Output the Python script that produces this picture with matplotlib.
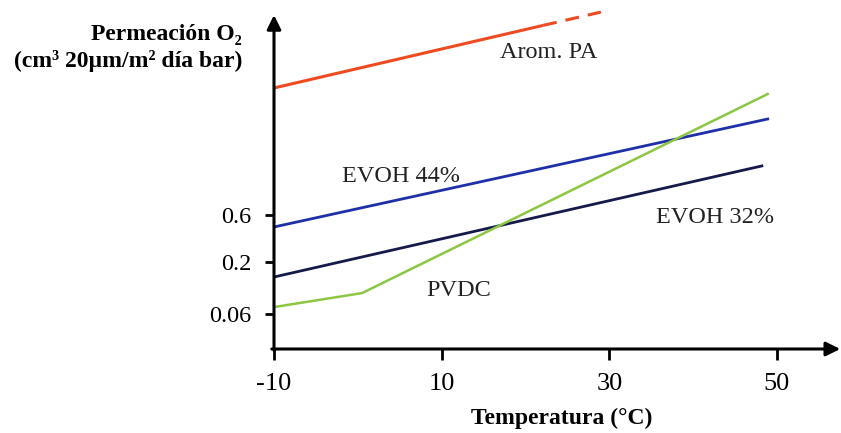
import matplotlib
matplotlib.use("Agg")
import matplotlib.pyplot as plt
from matplotlib.ticker import NullLocator

plt.rcParams['font.family'] = ['Liberation Serif', 'DejaVu Serif']
plt.rcParams['lines.scale_dashes'] = False

# data (temperature in C, permeation on a log axis)
arom_x = [-10, 22.1]
arom_y = [11.1, 47.0]
arom_dash_x = [22.1, 29.0]
arom_dash_y = [47.0, 63.9]

evoh44_x = [-10, 48.9]
evoh44_y = [0.45, 5.43]

evoh32_x = [-10, 48.2]
evoh32_y = [0.142, 1.84]

pvdc_x = [-10, 0.5, 48.9]
pvdc_y = [0.071, 0.098, 9.66]

x_ticks = [-10, 10, 30, 50]
y_ticks = [0.06, 0.2, 0.6]
y_tick_labels = ['0.06', '0.2', '0.6']

W, H = 841, 433
dpi = 100
fig = plt.figure(figsize=(W / dpi, H / dpi), dpi=dpi)


def px(x, y):
    return x / W, 1 - y / H


ax = fig.add_axes([274 / W, 1 - 349 / H, (838 - 274) / W, (349 - 8) / H])
ax.set_yscale('log')
ax.set_xlim(-10, 57.28)
ax.set_ylim(0.0270, 70.2)

ax.plot(arom_x, arom_y, color='#ee4b22', lw=2.2, solid_capstyle='butt')
ax.plot(arom_dash_x, arom_dash_y, color='#ee4b22', lw=2.2, dashes=(10, 6.5))
ax.plot(evoh44_x, evoh44_y, color='#1f2fa8', lw=2.0)
ax.plot(evoh32_x, evoh32_y, color='#151a4b', lw=2.0)
ax.plot(pvdc_x, pvdc_y, color='#8dc642', lw=1.8)

for s in ax.spines.values():
    s.set_visible(False)

# axis lines with arrow heads
arrow = dict(arrowstyle='-|>,head_length=0.85,head_width=0.42', color='black',
             lw=2.2, shrinkA=0, shrinkB=0)
ax.annotate('', xy=(1.004, 0), xytext=(-0.004, 0), xycoords='axes fraction',
            arrowprops=arrow, annotation_clip=False)
ax.annotate('', xy=(0, 0.9795), xytext=(0, -0.004), xycoords='axes fraction',
            arrowprops=arrow, annotation_clip=False)

ax.set_xticks(x_ticks)
ax.set_xticklabels([str(v) for v in x_ticks])
ax.set_yticks(y_ticks)
ax.set_yticklabels(y_tick_labels)
ax.yaxis.set_minor_locator(NullLocator())
ax.tick_params(axis='x', direction='out', length=8, width=2, pad=9, labelsize=19)
ax.tick_params(axis='y', direction='out', length=6.5, width=2, pad=10, labelsize=17.5)

# curve labels
lab = dict(fontsize=17.5, ha='center', va='center', color='#222222')
fig.text(*px(549, 52), 'Arom. PA', **lab)
fig.text(*px(401, 176), 'EVOH 44%', **lab)
fig.text(*px(715, 217), 'EVOH 32%', **lab)
fig.text(*px(459, 291), 'PVDC', **lab)

# axis titles
fig.text(*px(242, 48), 'Permeación O\u2082\n(cm\u00b3 20\u00b5m/m\u00b2 día bar)',
         fontsize=17, fontweight='bold', ha='right', va='center',
         multialignment='right', linespacing=1.3)
fig.text(*px(562, 418), 'Temperatura (°C)', fontsize=17, fontweight='bold',
         ha='center', va='center')

fig.savefig('out.png', dpi=dpi)
